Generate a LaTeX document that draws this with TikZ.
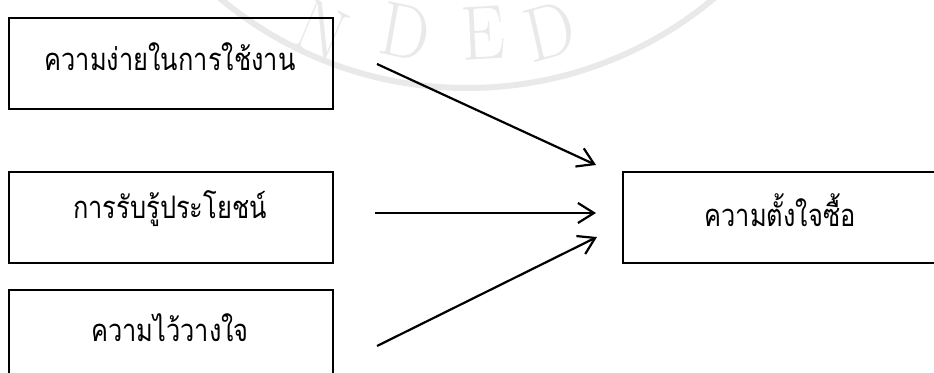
\documentclass[tikz,border=0pt]{standalone}
\usepackage{fontspec}
\newfontfamily\thaifont[Script=Thai]{Loma}
\usetikzlibrary{arrows.meta}
\definecolor{wm}{RGB}{233,233,233}
\tikzset{
  box/.style={draw=black, line width=2.4pt, minimum width=324pt, minimum height=91pt, inner sep=0pt, anchor=north west},
  lbl/.style={font=\thaifont\fontsize{31}{36}\selectfont, inner sep=0pt, xscale=0.82},
  wmletter/.style={text=wm, font=\fontsize{70}{70}\selectfont, inner sep=0pt, yscale=1.1},
  conn/.style={line width=2.2pt, -{Straight Barb[length=16pt, width=20pt, line width=2.2pt]}},
}
\begin{document}
\begin{tikzpicture}[x=1pt, y=-1pt]
\useasboundingbox (0,0) rectangle (934,372);
\clip (0,0) rectangle (934,372);
% watermark
\draw[wm, line width=6pt] (467,-297) circle[radius=385];
\node[wmletter, rotate=-25] (w1) at (322,31) {N};
\node[wmletter, rotate=-11] (w2) at (405,32) {D};
\node[wmletter, rotate=3] (w3) at (483,33) {E};
\node[wmletter, rotate=14] (w4) at (550,31) {D};
% boxes
\node[box] (b1) at (8,17) {};
\node[box] (b2) at (8,171) {};
\node[box] (b3) at (8,289) {};
\node[box, minimum width=316pt] (b4) at (622,171) {};
% labels
\node[lbl] (t1) at (170,57) {ความง่ายในการใช้งาน};
\node[lbl] (t2) at (170,209) {การรับรู้ประโยชน์};
\node[lbl] (t3) at (170,328) {ความไว้วางใจ};
\node[lbl] (t4) at (780,210) {ความตั้งใจซื้อ};
% connector ends
\coordinate (s1) at (377,64);
\coordinate (e1) at (596,165);
\coordinate (s2) at (375,213);
\coordinate (e2) at (596,213);
\coordinate (s3) at (377,346);
\coordinate (e3) at (597,237);
\draw[conn] (s1) -- (e1);
\draw[conn] (s2) -- (e2);
\draw[conn] (s3) -- (e3);
\end{tikzpicture}
\end{document}
